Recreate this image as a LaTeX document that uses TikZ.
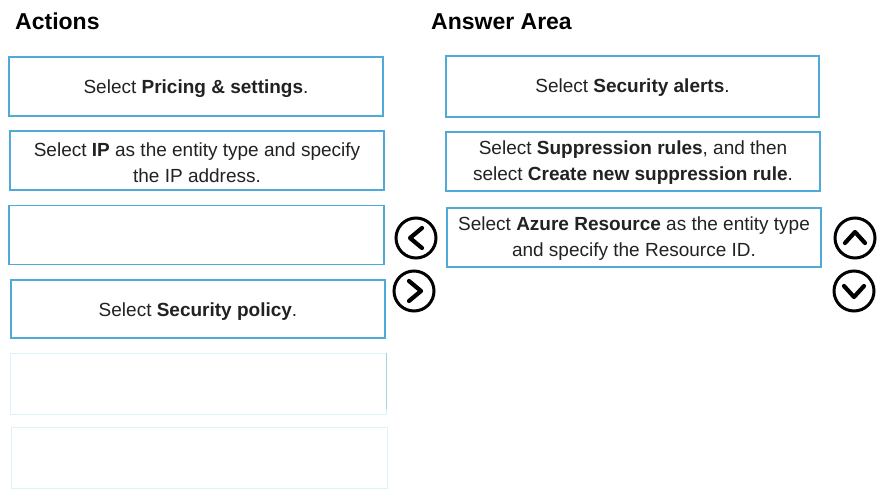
\documentclass[tikz,border=0pt]{standalone}
\usepackage{fontspec}
\setmainfont{Liberation Sans}
\definecolor{boxblue}{HTML}{4FAAD8}
\definecolor{faint}{HTML}{D9F5FA}
\definecolor{faintb}{HTML}{9FD3EA}
\definecolor{txt}{HTML}{222222}
\begin{document}
\begin{tikzpicture}[x=1pt,y=-1pt,
  card/.style={draw=boxblue,line width=1.3pt,fill=white,rectangle,inner sep=0pt},
  words/.style={align=center,text=txt,inner sep=0pt,font=\fontsize{19}{26}\selectfont},
  ghost/.style={draw=faint,line width=1pt,fill=white,rectangle,inner sep=0pt},
  title/.style={anchor=base west,font=\fontsize{23}{27}\selectfont\bfseries,text=black,inner sep=0pt},
  ring/.style={draw=black,line width=3pt,circle,minimum size=40pt,inner sep=0pt},
  chev/.style={line width=4.2pt,line join=round,line cap=round}
]
\useasboundingbox (0,0) rectangle (885,500);
\fill[white] (0,0) rectangle (885,500);

\node[title] (tA) at (15,30) {Actions};
\node[title] (tB) at (431,30) {Answer Area};

\node[card,minimum width=374pt,minimum height=59pt] (a1) at (196,86.5) {};
\node[card,minimum width=374pt,minimum height=59pt] (a2) at (197,160.5) {};
\node[card,minimum width=375pt,minimum height=59pt] (a3) at (196.5,235) {};
\node[card,minimum width=374pt,minimum height=58pt] (a4) at (198,309) {};
\node[ghost,minimum width=376pt,minimum height=61pt] (a5) at (198,383.5) {};
\draw[faintb,line width=1pt] (a5.north east) -- ([yshift=6pt]a5.south east);
\node[ghost,minimum width=376pt,minimum height=61pt] (a6) at (199,457.5) {};

\node[words] (a1t) at ([yshift=-2.5pt]a1.center) {Select \textbf{Pricing \& settings}.};
\node[words] (a2t) at ([yshift=-2pt]a2.center) {Select \textbf{IP} as the entity type and specify\\the IP address.};
\node[words] (a4t) at ([yshift=-2.5pt]a4.center) {Select \textbf{Security policy}.};

\node[card,minimum width=373pt,minimum height=61pt] (b1) at (632.5,86.5) {};
\node[card,minimum width=374pt,minimum height=59pt] (b2) at (633,161.5) {};
\node[card,minimum width=374pt,minimum height=59pt] (b3) at (634,237.5) {};

\node[words] (b1t) at ([yshift=-1.5pt]b1.center) {Select \textbf{Security alerts}.};
\node[words] (b2t) at ([yshift=-1.5pt]b2.center) {Select \textbf{Suppression rules}, and then\\select \textbf{Create new suppression rule}.};
\node[words] (b3t) at ([yshift=-1.5pt]b3.center) {Select \textbf{Azure Resource} as the entity type\\and specify the Resource ID.};

\node[ring] (left) at (416,238) {};
\node[ring] (right) at (414,291) {};
\node[ring] (up) at (855,238) {};
\node[ring] (down) at (854,291) {};

\draw[chev] ([shift={(6,-10)}]left.center) -- ([shift={(-6,0)}]left.center) -- ([shift={(6,10)}]left.center);
\draw[chev] ([shift={(-5,-10)}]right.center) -- ([shift={(7,0)}]right.center) -- ([shift={(-5,10)}]right.center);
\draw[chev] ([shift={(-10,5)}]up.center) -- ([shift={(0,-6)}]up.center) -- ([shift={(10,5)}]up.center);
\draw[chev] ([shift={(-10,-5)}]down.center) -- ([shift={(0,6)}]down.center) -- ([shift={(10,-5)}]down.center);
\end{tikzpicture}
\end{document}
